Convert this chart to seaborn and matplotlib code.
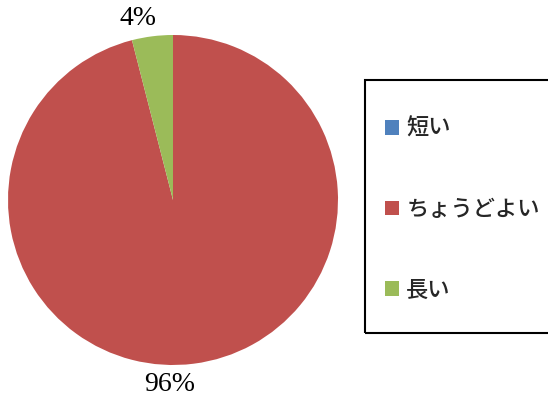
import matplotlib
matplotlib.use("Agg")
import matplotlib.pyplot as plt
import matplotlib.patches as mpatches
import numpy as np
import seaborn as sns

# data
categories = ["短い", "ちょうどよい", "長い"]
shares = [0, 96, 4]
colors = ["#4F81BD", "#C0504D", "#9BBB59"]
# where Excel put the data labels (degrees, counterclockwise from 3 o'clock)
label_angles = [None, 269, 101]

sns.set_theme(style="white")
plt.rcParams["font.family"] = ["Noto Sans CJK JP", "DejaVu Sans"]

fig = plt.figure(figsize=(5.48, 4.05), dpi=100)
ax = fig.add_axes([8 / 548, 40 / 405, 330 / 548, 330 / 405])


def pct_label(p):
    # hide the empty slice
    return f"{p:.0f}%" if p > 0.5 else ""


wedges, texts, autotexts = ax.pie(
    shares,
    colors=colors,
    startangle=90,
    counterclock=False,
    autopct=pct_label,
    pctdistance=1.12,
    wedgeprops={"linewidth": 0},
    textprops={"fontsize": 20, "family": "Liberation Serif", "color": "black"},
)
for t, ang in zip(autotexts, label_angles):
    if ang is not None:
        r = 1.12
        t.set_position((r * np.cos(np.radians(ang)), r * np.sin(np.radians(ang))))
ax.set_xlim(-1, 1)
ax.set_ylim(-1, 1)
ax.set_aspect("equal")

# legend frame (runs off the right edge like the original)
fig.patches.append(mpatches.Rectangle(
    (365 / 548, 1 - 333 / 405), 200 / 548, 253 / 405,
    transform=fig.transFigure, fill=False, edgecolor="black", linewidth=1.5,
))

leg = fig.legend(
    wedges,
    categories,
    loc="upper left",
    bbox_to_anchor=(385 / 548, 1 - 117 / 405),
    prop={"size": 16, "weight": "medium"},
    frameon=False,
    labelspacing=2.6,
    handlelength=0.65,
    handleheight=0.65,
    handletextpad=0.3,
    borderpad=0,
    borderaxespad=0,
)

fig.savefig("out.png", dpi=100)
